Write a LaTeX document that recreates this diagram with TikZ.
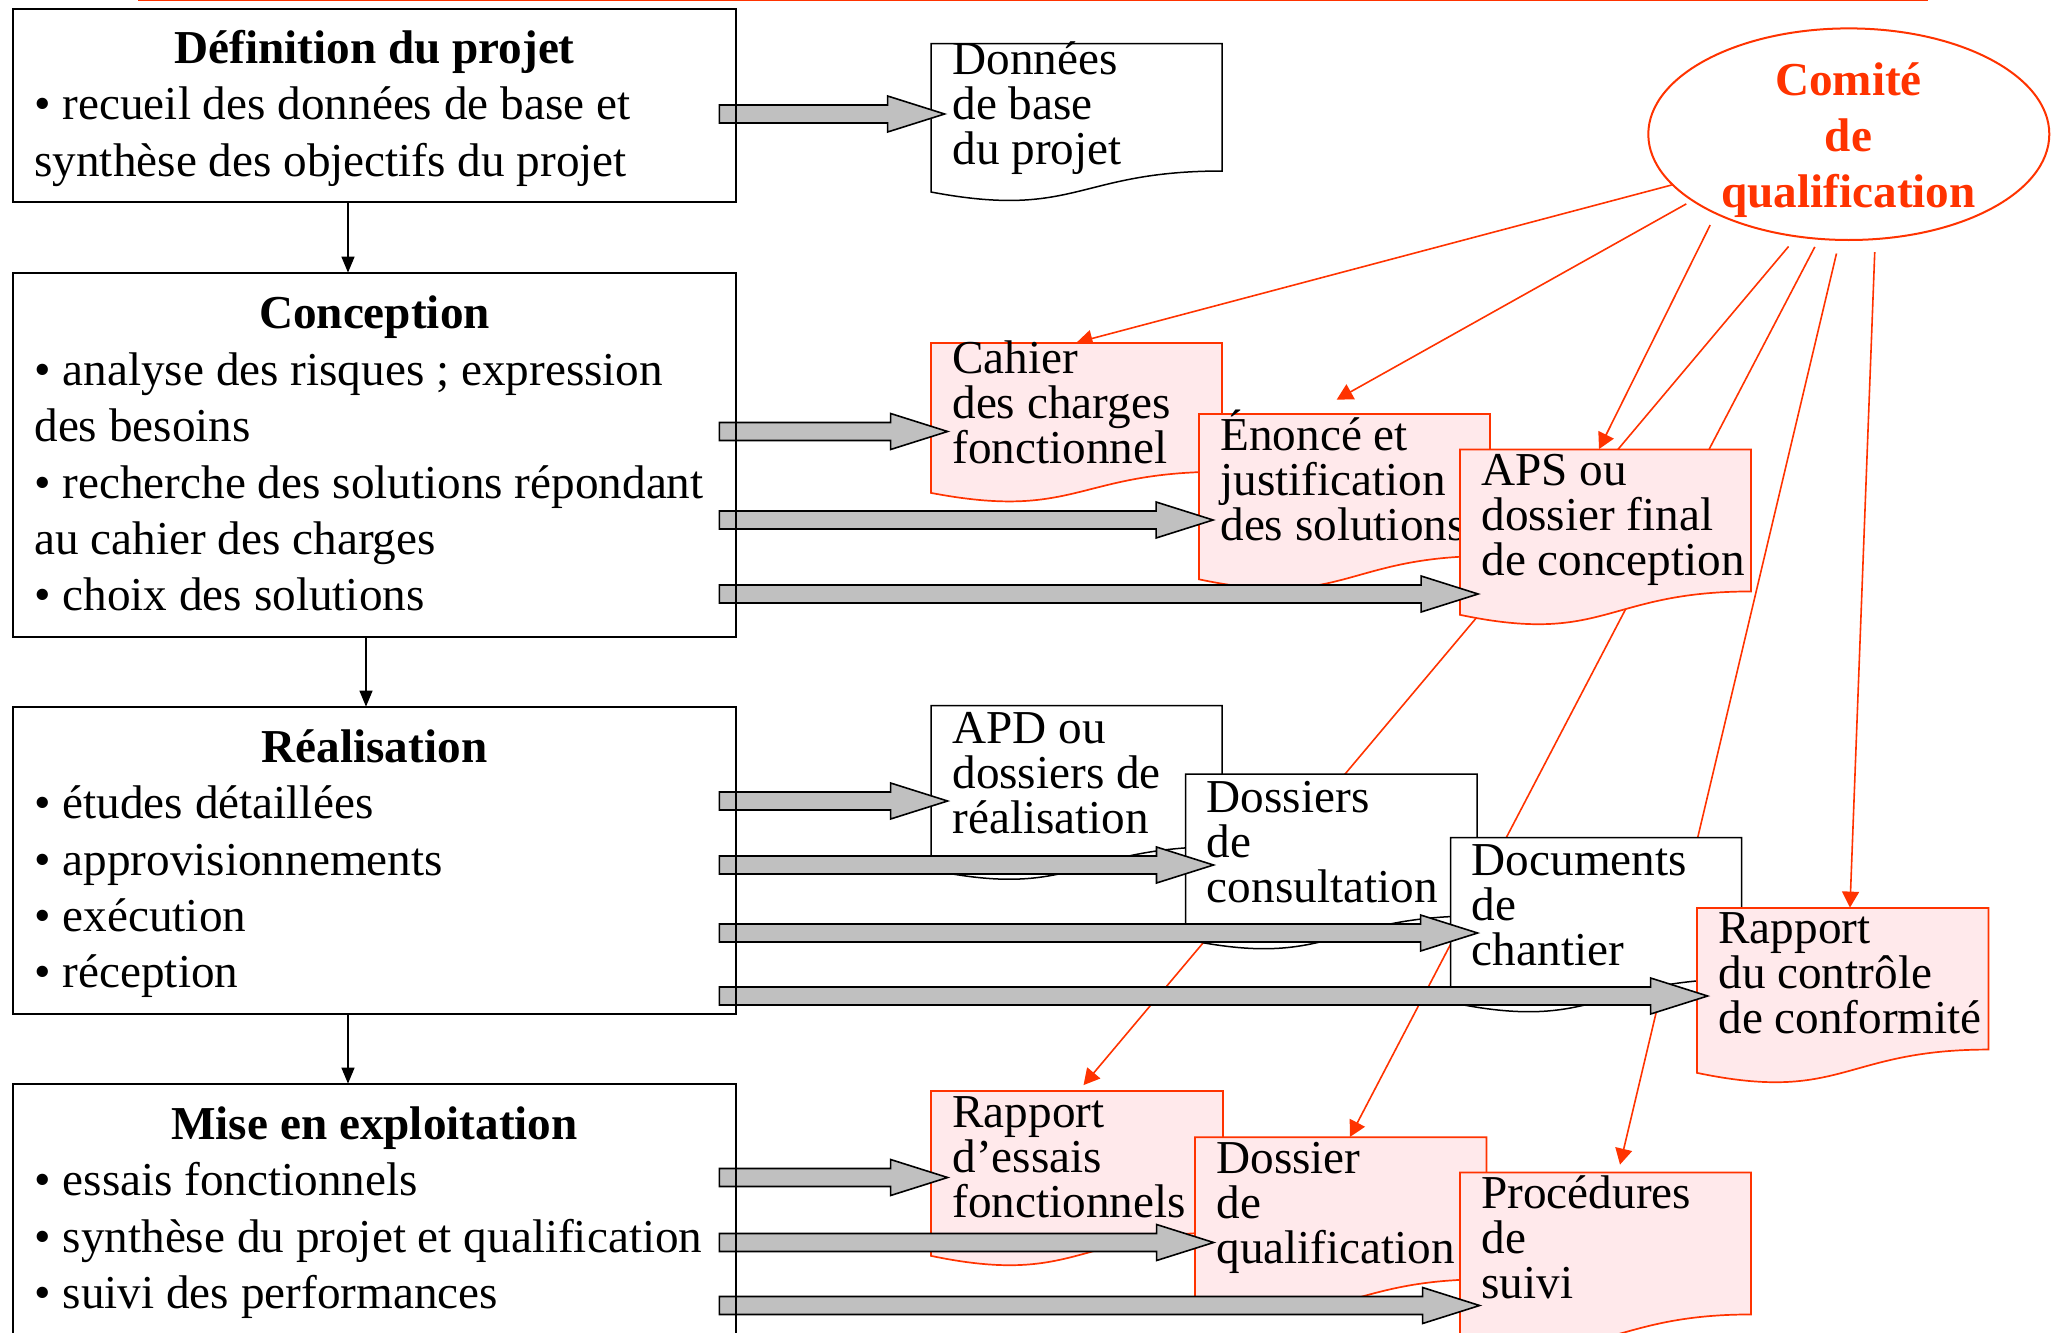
\documentclass[tikz,border=0pt]{standalone}
\usepackage{fontspec}
\setmainfont{Liberation Serif}
\usetikzlibrary{arrows.meta,calc,fit,shapes.geometric}
\pgfdeclarelayer{links}
\pgfsetlayers{links,main}

\definecolor{qred}{RGB}{255,51,0}
\definecolor{qpink}{RGB}{255,233,235}
\definecolor{shaftgray}{RGB}{192,192,192}

\tikzset{
  phaseframe/.style={draw=black, line width=1pt},
  boxanchor/.style={inner sep=0pt, draw=none},
  whitedoc/.style={draw=black, fill=white, line width=0.75pt},
  pinkdoc/.style={draw=qred, fill=qpink, line width=0.85pt},
  doctext/.style={anchor=north west, inner sep=0pt, align=left,
    font={\fontsize{23.6pt}{22.5pt}\selectfont}},
  phasetitle/.style={anchor=base, inner sep=0pt,
    font={\fontsize{23.6pt}{28pt}\selectfont\bfseries}},
  phaselist/.style={anchor=north west, inner sep=0pt, align=left,
    font={\fontsize{23.6pt}{28.15pt}\selectfont}},
  comitetext/.style={anchor=north, inner sep=0pt, align=center, text=qred,
    font={\fontsize{23.6pt}{28pt}\selectfont\bfseries}},
  flow/.style={-{Triangle[length=8pt,width=6.5pt]}, line width=0.75pt},
  qline/.style={draw=qred, line width=0.8pt, -{Triangle[length=8pt,width=8.5pt]}},
  blockarrow/.style={draw=black, fill=shaftgray, line width=0.8pt, line join=miter},
}

% document sheet with a wavy lower edge; the named node covers its straight part
% #1 name, #2 style, #3 left, #4 top, #5 width, #6 height, #7 first baseline, #8 text
\newcommand{\docbox}[8]{%
  \path[#2] (#3,#4) -- ({#3+#5},#4) -- ({#3+#5},{#4+0.802*#6})
    .. controls ({#3+0.5*#5},{#4+0.802*#6}) and ({#3+0.5*#5},{#4+1.107*#6})
    .. (#3,{#4+0.934*#6}) -- cycle;
  \node[boxanchor, fit={(#3,#4) ({#3+#5},{#4+0.802*#6})}] (#1) {};
  \node[doctext] (#1-text) at ({#3+21},{#4+#7-60}) {\rule{0pt}{30pt}#8};
}

% wide grey arrow from a phase box to a document
% #1 source node, #2 target node, #3 axis height, #4 tip inset into the target
\newcommand{\bigarrow}[4]{%
  \path[blockarrow] let \p1=(#1.east), \p2=(#2.west), \p3=(0,#3) in
    ({\x1-8.5pt},{\y3+4.5pt}) -- ({\x2+#4*0.5pt-28.5pt},{\y3+4.5pt})
    -- ({\x2+#4*0.5pt-28.5pt},{\y3+9pt}) -- ({\x2+#4*0.5pt},{\y3})
    -- ({\x2+#4*0.5pt-28.5pt},{\y3-9pt}) -- ({\x2+#4*0.5pt-28.5pt},{\y3-4.5pt})
    -- ({\x1-8.5pt},{\y3-4.5pt}) -- cycle;
}

\begin{document}
\begin{tikzpicture}[x=0.5pt,y=-0.5pt]
\useasboundingbox (0,0) rectangle (2051,1333);
\clip (0,0) rectangle (2051,1333);

% rule along the top edge
\draw[qred, line width=1pt] (138,0) -- (1928,0);

% documents produced at each phase
\docbox{donnees}{whitedoc}{931}{43.5}{291}{159}{30.5}{Données\\de base\\du projet}
\docbox{cahier}{pinkdoc}{931}{343}{291}{160.5}{30}{Cahier\\des charges\\fonctionnel}
\docbox{enonce}{pinkdoc}{1199}{414}{291}{177}{36}{Énoncé et\\justification\\des solutions}
\docbox{aps}{pinkdoc}{1460}{449.5}{291}{177}{35.5}{APS ou\\dossier final\\de conception}
\docbox{apd}{whitedoc}{931}{705.5}{291}{176}{37.5}{APD ou\\dossiers de\\réalisation}
\docbox{consult}{whitedoc}{1185.5}{774}{291.5}{177}{38}{Dossiers\\de\\consultation}
\docbox{chantier}{whitedoc}{1450.5}{837.5}{291}{176.5}{37.5}{Documents\\de\\chantier}
\docbox{controle}{pinkdoc}{1697}{908}{291.5}{176.5}{35.5}{Rapport\\du contrôle\\de conformité}
\docbox{essais}{pinkdoc}{931}{1091}{292}{176.5}{36}{Rapport\\d’essais\\fonctionnels}
\docbox{qualif}{pinkdoc}{1195}{1137.3}{291.5}{177}{36}{Dossier\\de\\qualification}
\docbox{suivi}{pinkdoc}{1460}{1172.5}{291}{177}{36}{Procédures\\de\\suivi}

% phase boxes
\node[boxanchor, fit={(13,9) (736,202)}] (def) {};
\node[boxanchor, fit={(13,273) (736,637)}] (conc) {};
\node[boxanchor, fit={(13,707) (736,1014)}] (real) {};
\node[boxanchor, fit={(13,1084) (736,1400)}] (mise) {};

% qualification committee
\node[ellipse, draw=qred, line width=1pt, fill=white, minimum width=200.5pt,
      minimum height=105.8pt, inner sep=0pt] (comite) at (1848.8,134.2) {};
\node[comitetext] (comite-text) at (1848.5,35) {\rule{0pt}{30pt}Comité\\de\\qualification};

\begin{pgfonlayer}{links}
\draw[qline] (comite.196) -- (cahier.north);
\draw[qline, shorten <=3pt] (comite.203) -- ([xshift=-3.9pt,yshift=7pt]enonce.north);
\draw[qline, shorten <=6pt] (comite.211) -- ([xshift=-3.25pt]aps.north);
\draw[qline, shorten <=6pt] (comite.243) -- ([xshift=3.25pt,yshift=2.75pt]essais.north);
\draw[qline, shorten <=4pt] (comite.254) -- ([xshift=4.6pt]qualif.north);
\draw[qline, shorten <=6.5pt] (comite.265) -- ([xshift=7.25pt,yshift=3.75pt]suivi.north);
\draw[qline, shorten <=6pt] (comite.284) -- ([xshift=3.6pt]controle.north);
\end{pgfonlayer}

% outputs of each phase
\bigarrow{def}{donnees}{114}{14}
\bigarrow{conc}{cahier}{431.5}{17}
\bigarrow{conc}{enonce}{520}{14.5}
\bigarrow{conc}{aps}{594}{18.5}
\bigarrow{real}{apd}{801}{17}
\bigarrow{real}{consult}{865}{28.4}
\bigarrow{real}{chantier}{933}{27.5}
\bigarrow{real}{controle}{996}{11}
\bigarrow{mise}{essais}{1177.5}{17}
\bigarrow{mise}{qualif}{1242.5}{19}
\bigarrow{mise}{suivi}{1305.5}{20}

% frames and contents of the phases
\foreach \ph in {def,conc,real,mise}
  \draw[phaseframe] (\ph.north west) rectangle (\ph.south east);

\node[phasetitle] (def-title) at (374.5,63) {Définition du projet};
\node[phaselist] (def-list) at (34,59.5)
  {\rule{0pt}{30pt}• recueil des données de base et\\synthèse des objectifs du projet};

\node[phasetitle] (conc-title) at (374.5,328.3) {Conception};
\node[phaselist] (conc-list) at (34,325)
  {\rule{0pt}{30pt}• analyse des risques ; expression\\des besoins\\• recherche des solutions répondant\\au cahier des charges\\• choix des solutions};

\node[phasetitle] (real-title) at (374.5,762) {Réalisation};
\node[phaselist] (real-list) at (34,758.5)
  {\rule{0pt}{30pt}• études détaillées\\• approvisionnements\\• exécution\\• réception};

\node[phasetitle] (mise-title) at (374.5,1139) {Mise en exploitation};
\node[phaselist] (mise-list) at (34,1135.5)
  {\rule{0pt}{30pt}• essais fonctionnels\\• synthèse du projet et qualification\\• suivi des performances};

% sequence of phases
\draw[flow] ([xshift=-13.25pt]def.south) -- ([xshift=-13.25pt]conc.north);
\draw[flow] ([xshift=-4.25pt]conc.south) -- ([xshift=-4.25pt]real.north);
\draw[flow] ([xshift=-13.25pt]real.south) -- ([xshift=-13.25pt]mise.north);
\end{tikzpicture}
\end{document}
